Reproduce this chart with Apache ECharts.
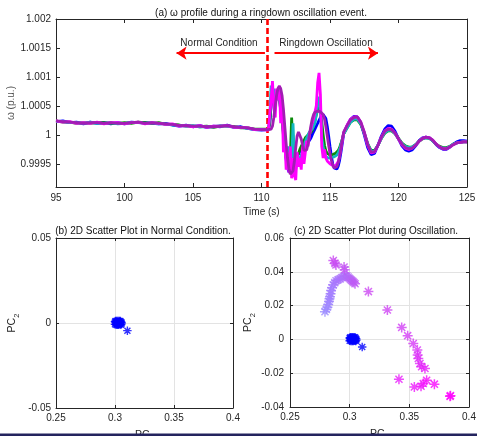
<!DOCTYPE html>
<html><head><meta charset="utf-8">
<script src="https://cdn.jsdelivr.net/npm/echarts@6/dist/echarts.min.js"></script>
<style>html,body{margin:0;padding:0;background:#fff}#c{width:477px;height:436px}</style>
</head><body><div id="c"></div>
<script>
// ---------- (a) time axis (s) ----------
const timePre = [95,95.5,96,96.5,97,97.5,98,98.5,99,99.5,100,100.5,101,101.5,102,102.5,103,103.5,104,104.5,105,105.5,106,106.5,107,107.5,108,108.5,109,109.5,110,110.5];
const timeOsc = [110.6,110.7,110.8,110.9,111,111.1,111.2,111.3,111.4,111.5,
  111.6,111.7,111.8,111.9,112,112.1,112.2,112.3,112.4,112.5,
  112.6,112.7,112.8,112.9,113,113.1,113.2,113.3,113.4,113.5,
  113.6,113.7,113.8,113.9,114,114.1,114.2,114.3,114.4,114.5,
  114.6,114.7,114.8,114.9,115,115.1,115.2,115.3,115.4,115.5,
  115.6,115.7,115.8,115.9,116];
const timePost = [116.25,116.5,116.75,117,117.25,117.5,117.75,118,118.25,118.5,118.75,119,119.25,119.5,119.75,120,120.25,120.5,120.75,121,121.25,121.5,121.75,122,122.25,122.5,122.75,123,123.25,123.5,123.75,124,124.25,124.5,124.75,125];

// ---------- (a) omega values (p.u.) ----------
const bluePre = [1.00023,1.00024,1.00021,1.00022,1.00019,1.00022,1.0002,1.00021,1.00019,1.00021,1.00019,1.00022,1.00021,1.00021,1.0002,1.00019,1.0002,1.00017,1.00015,1.00017,1.00014,1.00016,1.00013,1.00015,1.00014,1.00017,1.00013,1.00014,1.00011,1.00009,1.00008,1.00009];
const blueOsc = [1.0002,1.0005,1.0007,1.00075,1.00068,1.0007,1.00072,1.00065,1.0005,1.0003,
  1.00005,0.9998,0.99958,0.99943,0.99936,0.99936,0.99942,0.99952,0.9996,0.99964,
  0.99966,0.99967,0.9997,0.99975,0.9998,0.99983,0.99985,0.99986,0.99987,0.9999,
  0.99994,1.0,1.00005,1.0001,1.00015,1.0002,1.00025,1.0003,1.00033,1.00035,
  1.00034,1.00028,1.00015,0.99998,0.9998,0.99963,0.9995,0.99943,0.9994,0.99941,
  0.99946,0.99956,0.9997,0.99986,1.00002];
const bluePost = [1.00016,1.00027,1.00032,1.00031,1.0002,1.0,0.99978,0.99966,0.99968,0.99982,0.99998,1.0001,1.00016,1.00015,1.00006,0.99993,0.99981,0.99974,0.99972,0.99974,0.99981,0.9999,0.99995,0.99996,0.99995,0.9999,0.99983,0.99978,0.99975,0.99975,0.99979,0.99984,0.99988,0.9999,0.9999,0.99989];

const greenPre = [1.00024,1.00022,1.00022,1.0002,1.00021,1.0002,1.00021,1.00021,1.0002,1.0002,1.00021,1.0002,1.00022,1.00021,1.0002,1.00021,1.00018,1.00018,1.00017,1.00015,1.00015,1.00014,1.00015,1.00013,1.00015,1.00015,1.00014,1.00012,1.00012,1.0001,1.0001,1.0001];
const greenOsc = [1.0002,1.00055,1.0007,1.0006,1.00065,1.0007,1.00068,1.0006,1.00045,1.00025,
  1.0,0.99978,0.9996,0.9995,0.99948,0.9996,1.0003,0.9997,0.99955,0.99958,
  0.99962,0.99968,0.99975,0.9998,0.99985,0.9999,0.99995,0.99998,1.0,1.00002,
  1.00004,1.00008,1.00015,1.00025,1.00035,1.00042,1.00048,1.0004,1.00022,1.0,
  0.99982,0.99972,0.99968,0.99966,0.99965,0.99965,0.99966,0.99967,0.99968,0.9997,
  0.99973,0.99978,0.99985,0.99993,1.00002];
const greenPost = [1.00012,1.00022,1.00026,1.00026,1.00018,1.00003,0.99985,0.99973,0.99973,0.99982,0.99994,1.00003,1.00007,1.00007,1.00002,0.99994,0.99986,0.99981,0.99979,0.99979,0.99983,0.99989,0.99993,0.99995,0.99994,0.9999,0.99984,0.9998,0.99978,0.99978,0.9998,0.99984,0.99986,0.99987,0.99988,0.99988];

const cyanPre = [1.00023,1.00023,1.00021,1.00021,1.0002,1.00022,1.0002,1.0002,1.00021,1.00019,1.0002,1.00021,1.00021,1.0002,1.00021,1.00019,1.00019,1.00017,1.00016,1.00015,1.00016,1.00014,1.00014,1.00014,1.00016,1.00015,1.00013,1.00013,1.00011,1.00009,1.00009,1.00009];
const cyanOsc = [1.0003,1.00085,1.0006,1.0008,1.0005,1.00078,1.0006,1.0007,1.0004,1.0005,
  1.0001,0.9999,0.9996,0.9998,0.99955,0.9997,0.9995,1.0002,0.9996,0.9994,
  0.99955,0.9995,0.9996,0.99965,0.99972,0.9998,0.99988,0.99995,1.0,1.00005,
  1.00006,1.0001,1.00015,1.0002,1.00035,1.0005,1.00066,1.0005,0.99995,0.9998,
  0.99968,0.99962,0.9996,0.9996,0.9996,0.99961,0.99962,0.99962,0.99963,0.99965,
  0.99969,0.99975,0.99983,0.99992,1.00002];
const cyanPost = [1.00012,1.00022,1.00027,1.00027,1.00019,1.00003,0.99984,0.99972,0.99972,0.99982,0.99994,1.00004,1.00008,1.00008,1.00002,0.99993,0.99985,0.9998,0.99978,0.99979,0.99983,0.99989,0.99994,0.99995,0.99994,0.9999,0.99984,0.99979,0.99977,0.99977,0.9998,0.99984,0.99986,0.99987,0.99988,0.99988];

const magentaPre = [1.00024,1.00022,1.00023,1.0002,1.00021,1.0002,1.00022,1.00019,1.00021,1.00021,1.00019,1.00021,1.00022,1.00019,1.00021,1.0002,1.00018,1.00019,1.00015,1.00016,1.00014,1.00016,1.00013,1.00015,1.00015,1.00016,1.00013,1.00013,1.00012,1.00009,1.00009,1.00008];
const magentaOsc = [1.0001,1.0006,1.00093,1.0005,1.0003,1.0008,1.0006,1.00085,1.0002,1.0006,
  0.9997,0.9999,0.9994,0.9997,0.99935,0.9998,0.99925,0.9996,0.9993,0.99922,
  0.9997,0.99945,0.9996,0.9994,0.9998,0.9995,0.9997,0.9999,0.9998,1.0,
  1.0001,1.0002,1.00028,1.0003,1.0005,1.0009,1.00107,1.0007,0.9998,0.9996,
  0.99975,0.9996,0.99955,0.99952,0.9995,0.99948,0.99947,0.99946,0.99946,0.99948,
  0.99954,0.99963,0.99976,0.9999,1.00004];
const magentaPost = [1.00017,1.00027,1.00031,1.00031,1.00022,1.00004,0.99982,0.99969,0.9997,0.99982,0.99996,1.00007,1.00011,1.0001,1.00003,0.99993,0.99983,0.99977,0.99975,0.99977,0.99982,0.99989,0.99994,0.99996,0.99995,0.99991,0.99984,0.99979,0.99976,0.99976,0.99979,0.99983,0.99986,0.99987,0.99988,0.99988];

const purplePre = [1.00024,1.00023,1.00022,1.00021,1.0002,1.00021,1.00021,1.0002,1.00021,1.0002,1.0002,1.00021,1.00022,1.0002,1.00021,1.0002,1.00019,1.00018,1.00016,1.00016,1.00015,1.00015,1.00014,1.00014,1.00015,1.00016,1.00014,1.00013,1.00012,1.0001,1.00009,1.00009];
const purpleOsc = [1.00009,1.0001,1.00015,1.0003,1.0005,1.00068,1.0008,1.00084,1.0008,1.00068,
  1.00045,1.00015,0.99985,0.9996,0.99942,0.99932,0.9993,0.99938,0.99955,0.99978,
  0.99998,1.00005,1.00003,0.99993,0.99982,0.99973,0.9997,0.99974,0.99985,1.0,
  1.00015,1.00027,1.00035,1.00039,1.0004,1.00041,1.00041,1.0004,1.00039,1.00035,
  1.00027,1.00014,0.99998,0.99982,0.99968,0.99956,0.99948,0.99943,0.99942,0.99945,
  0.99952,0.99963,0.99977,0.99992,1.00005];
const purplePost = [1.00016,1.00026,1.0003,1.00031,1.00022,1.00005,0.99983,0.9997,0.99971,0.99982,0.99996,1.00006,1.0001,1.00009,1.00003,0.99993,0.99984,0.99978,0.99976,0.99977,0.99982,0.99989,0.99994,0.99996,0.99995,0.99991,0.99984,0.99979,0.99976,0.99976,0.99979,0.99983,0.99986,0.99987,0.99988,0.99988];

const eventTime = 110.45;
const yTicksA = [0.9995, 1, 1.0005, 1.001, 1.0015, 1.002];

// ---------- (b)/(c) principal components ----------
const normalPC1 = [0.3,0.3,0.3005,0.3005,0.301,0.301,0.3015,0.3015,0.302,0.302,0.3025,0.3025,0.303,0.303,0.3035,0.3035,0.304,0.304,0.3045,0.3045,0.305,0.305,0.3055,0.3055,0.3025,0.3105];
const normalPC2 = [0.0008,-0.0008,0.0002,0.0012,-0.001,0.0006,0.0012,-0.0004,0.0002,-0.001,0.0012,-0.0006,0.0005,-0.001,0.0012,-0.0002,0.0008,-0.0008,0.0,0.0012,-0.001,0.0006,0.0003,-0.0005,0.0001,-0.0045];

const oscPC1 = [0.2793,0.2805,0.2813,0.282,0.2827,0.2831,0.2835,0.284,0.2844,0.2852,0.2863,0.2875,0.2886,0.2903,0.292,0.2935,0.2948,0.2962,0.2976,0.2987,0.2997,0.3007,0.3017,0.3027,0.3036,0.3045,
  0.2958,0.2953,0.2885,0.2877,0.2863,
  0.3157,0.3316,0.3436,0.3486,0.3533,0.3567,0.357,0.3575,0.3589,0.3603,0.3631,0.3413,0.3542,0.3598,0.3617,0.3645,0.371,0.3841,0.3845];
const oscPC2 = [0.0164,0.0178,0.019,0.0207,0.0224,0.024,0.0253,0.027,0.0289,0.0305,0.0323,0.0336,0.0347,0.0353,0.0358,0.0366,0.0372,0.0375,0.0376,0.0369,0.0362,0.0355,0.0349,0.0343,0.0337,0.0329,
  0.0412,0.0428,0.044,0.045,0.0467,
  0.0283,0.0174,0.0071,0.0022,-0.0024,-0.0063,-0.0093,-0.0113,-0.0143,-0.0162,-0.0172,-0.0236,-0.0281,-0.0277,-0.0261,-0.0242,-0.0265,-0.0337,-0.0333];

// ---------- build ----------
const zipT = (t, v) => t.map((x, i) => [x, v[i]]);
const timeAll = timePre.concat(timeOsc, timePost);
const FONT = 'Liberation Sans, Arial, Helvetica, sans-serif';
const AX = '#262626';
const ASTER = 'path://M5 0L5 10M0 5L10 5M1.46 1.46L8.54 8.54M1.46 8.54L8.54 1.46';

function baseAxis(o) {
  return Object.assign({
    type: 'value', scale: false, nameMoveOverlap: false,
    axisLine: { show: true, onZero: false, lineStyle: { color: AX, width: 1 } },
    axisTick: { show: true, inside: true, length: 4, lineStyle: { color: AX } },
    axisLabel: { show: true, fontFamily: FONT, fontSize: 10, color: AX, margin: 5 },
    splitLine: { show: false },
    nameTextStyle: { fontFamily: FONT, fontSize: 10, color: AX }
  }, o);
}
function mirror(o) {
  const a = baseAxis(o);
  a.axisLabel = { show: false };
  a.name = '';
  return a;
}
const fmt3 = v => String(parseFloat(v.toFixed(4)));

const chart = echarts.init(document.getElementById('c'), null, { renderer: 'canvas' });
const pcRich = {
  a: { fontFamily: FONT, fontSize: 10.5, color: AX, verticalAlign: 'top', lineHeight: 14 },
  b: { fontFamily: FONT, fontSize: 7.5, color: AX, verticalAlign: 'bottom', lineHeight: 14, padding: [5, 0, 0, 0] }
};
const tick3 = { show: true, inside: true, length: 3, lineStyle: { color: AX } };
const grid2 = { show: true, lineStyle: { color: '#e3e3e3', width: 1 } };

chart.setOption({
  animation: false,
  backgroundColor: '#fff',
  grid: [
    { left: 56, top: 19, width: 411, height: 168, outerBoundsMode: 'none', containLabel: false },
    { left: 56, top: 238, width: 177, height: 170, outerBoundsMode: 'none', containLabel: false },
    { left: 290, top: 238, width: 179, height: 169, outerBoundsMode: 'none', containLabel: false }
  ],
  xAxis: [
    baseAxis({ gridIndex: 0, min: 95, max: 125, interval: 5, position: 'bottom',
      axisLabel: { show: true, fontFamily: FONT, fontSize: 10, color: AX, margin: 6 },
      name: 'Time (s)', nameLocation: 'middle', nameGap: 20 }),
    mirror({ gridIndex: 0, min: 95, max: 125, interval: 5, position: 'top' }),
    baseAxis({ gridIndex: 1, min: 0.25, max: 0.4, interval: 0.05, position: 'bottom',
      axisTick: tick3,
      axisLabel: { show: true, fontFamily: FONT, fontSize: 10, color: AX, margin: 5, formatter: fmt3 },
      splitLine: grid2,
      name: '{a|PC}{b|1}', nameLocation: 'middle', nameGap: 22, nameTextStyle: { rich: pcRich } }),
    mirror({ gridIndex: 1, min: 0.25, max: 0.4, interval: 0.05, position: 'top', axisTick: tick3 }),
    baseAxis({ gridIndex: 2, min: 0.25, max: 0.4, interval: 0.05, position: 'bottom',
      axisTick: tick3,
      axisLabel: { show: true, fontFamily: FONT, fontSize: 10, color: AX, margin: 5, formatter: fmt3 },
      splitLine: grid2,
      name: '{a|PC}{b|1}', nameLocation: 'middle', nameGap: 22, nameTextStyle: { rich: pcRich } }),
    mirror({ gridIndex: 2, min: 0.25, max: 0.4, interval: 0.05, position: 'top', axisTick: tick3 })
  ],
  yAxis: [
    baseAxis({ gridIndex: 0, min: 0.9991, max: 1.002, position: 'left',
      axisTick: { show: true, inside: true, length: 4, lineStyle: { color: AX }, customValues: yTicksA },
      axisLabel: { show: true, fontFamily: FONT, fontSize: 10, color: AX, margin: 5, customValues: yTicksA, formatter: fmt3 },
      name: 'ω (p.u.)', nameLocation: 'middle', nameGap: 40,
      nameTextStyle: { fontFamily: FONT, fontSize: 10, color: '#505050' } }),
    mirror({ gridIndex: 0, min: 0.9991, max: 1.002, position: 'right',
      axisTick: { show: true, inside: true, length: 4, lineStyle: { color: AX }, customValues: yTicksA } }),
    baseAxis({ gridIndex: 1, min: -0.05, max: 0.05, interval: 0.05, position: 'left',
      axisTick: tick3,
      axisLabel: { show: true, fontFamily: FONT, fontSize: 10, color: AX, margin: 5, formatter: fmt3 },
      splitLine: grid2,
      name: '{a|PC}{b|2}', nameLocation: 'middle', nameGap: 35, nameTextStyle: { rich: pcRich } }),
    mirror({ gridIndex: 1, min: -0.05, max: 0.05, interval: 0.05, position: 'right', axisTick: tick3 }),
    baseAxis({ gridIndex: 2, min: -0.04, max: 0.06, interval: 0.02, position: 'left',
      axisTick: tick3,
      axisLabel: { show: true, fontFamily: FONT, fontSize: 10, color: AX, margin: 6, formatter: fmt3 },
      splitLine: grid2,
      name: '{a|PC}{b|2}', nameLocation: 'middle', nameGap: 33, nameTextStyle: { rich: pcRich } }),
    mirror({ gridIndex: 2, min: -0.04, max: 0.06, interval: 0.02, position: 'right', axisTick: tick3 })
  ],
  visualMap: [{
    show: false, type: 'continuous', seriesIndex: 7, dimension: 2, min: 0, max: oscPC1.length - 1,
    inRange: { color: ['#9d8eff', '#a57bff', '#b36af8', '#c84cf2', '#e02cf9', '#ff00ff'] }
  }],
  series: [
    { type: 'line', name: 'blue', xAxisIndex: 0, yAxisIndex: 0, showSymbol: false, symbol: 'none',
      data: zipT(timeAll, bluePre.concat(blueOsc, bluePost)), lineStyle: { color: '#0000ff', width: 2.8 }, z: 2,
      markLine: {
        silent: true, symbol: 'none', label: { show: false }, animation: false,
        data: [
          { xAxis: eventTime, lineStyle: { color: '#ff0000', width: 2.6, type: [6, 3] } },
          [ { coord: [103.8, 1.00141], symbol: 'arrow', symbolSize: 10 },
            { coord: [110.25, 1.00141], symbol: 'none' } ],
          [ { coord: [110.95, 1.00141], symbol: 'none' },
            { coord: [118.5, 1.00141], symbol: 'arrow', symbolSize: 10 } ]
        ],
        lineStyle: { color: '#ff0000', width: 2, type: 'solid' }
      } },
    { type: 'line', name: 'green', xAxisIndex: 0, yAxisIndex: 0, showSymbol: false, symbol: 'none',
      data: zipT(timeAll, greenPre.concat(greenOsc, greenPost)), lineStyle: { color: '#0a8a0a', width: 2.8 }, z: 3 },
    { type: 'line', name: 'cyan', xAxisIndex: 0, yAxisIndex: 0, showSymbol: false, symbol: 'none',
      data: zipT(timeAll, cyanPre.concat(cyanOsc, cyanPost)), lineStyle: { color: '#12b8c2', width: 2.8 }, z: 4 },
    { type: 'line', name: 'magenta', xAxisIndex: 0, yAxisIndex: 0, showSymbol: false, symbol: 'none',
      data: zipT(timeAll, magentaPre.concat(magentaOsc, magentaPost)), lineStyle: { color: '#ff00ff', width: 2.8 }, z: 5 },
    { type: 'line', name: 'purple', xAxisIndex: 0, yAxisIndex: 0, showSymbol: false, symbol: 'none',
      data: zipT(timeAll, purplePre.concat(purpleOsc, purplePost)), lineStyle: { color: '#a21db3', width: 2.8 }, z: 6 },
    { type: 'scatter', xAxisIndex: 2, yAxisIndex: 2, symbol: ASTER, symbolSize: 8.5,
      data: normalPC1.map((x, i) => [x, normalPC2[i]]),
      itemStyle: { color: '#0000ff', borderColor: '#0000ff', borderWidth: 1.4 } },
    { type: 'scatter', xAxisIndex: 4, yAxisIndex: 4, symbol: ASTER, symbolSize: 8.5,
      data: normalPC1.map((x, i) => [x, normalPC2[i]]),
      itemStyle: { color: '#0000ff', borderColor: '#0000ff', borderWidth: 1.4 } },
    { type: 'scatter', xAxisIndex: 4, yAxisIndex: 4, symbol: ASTER, symbolSize: 10,
      data: oscPC1.map((x, i) => [x, oscPC2[i], i]),
      itemStyle: { borderWidth: 1.5 } }
  ],
  graphic: [
    { type: 'text', x: 261, y: 13, style: { text: '(a) ω profile during a ringdown oscillation event.', fontFamily: FONT, fontSize: 10, fill: '#111', align: 'center', verticalAlign: 'middle' } },
    { type: 'text', x: 219, y: 43, style: { text: 'Normal Condition', fontFamily: FONT, fontSize: 10, fill: '#262626', align: 'center', verticalAlign: 'middle' } },
    { type: 'text', x: 326, y: 43, style: { text: 'Ringdown Oscillation', fontFamily: FONT, fontSize: 10, fill: '#262626', align: 'center', verticalAlign: 'middle' } },
    { type: 'text', x: 143, y: 231, style: { text: '(b) 2D Scatter Plot in Normal Condition.', fontFamily: FONT, fontSize: 10, fill: '#111', align: 'center', verticalAlign: 'middle' } },
    { type: 'text', x: 376, y: 231, style: { text: '(c) 2D Scatter Plot during Oscillation.', fontFamily: FONT, fontSize: 10, fill: '#111', align: 'center', verticalAlign: 'middle' } },
    { type: 'rect', z: 100, shape: { x: 0, y: 433.5, width: 477, height: 2.5 }, style: { fill: '#24245e' } }
  ]
});
// asterisk strokes take their colour from the visual map for the oscillation series
const visCol = chart.getModel().getSeriesByIndex(7).getData();
const cols = [];
visCol.each(i => cols.push(visCol.getItemVisual(i, 'style').fill));
chart.setOption({ series: [{}, {}, {}, {}, {}, {}, {},
  { data: oscPC1.map((x, i) => ({ value: [x, oscPC2[i], i], itemStyle: { borderColor: cols[i] } })) }] });
</script>
</body></html>
